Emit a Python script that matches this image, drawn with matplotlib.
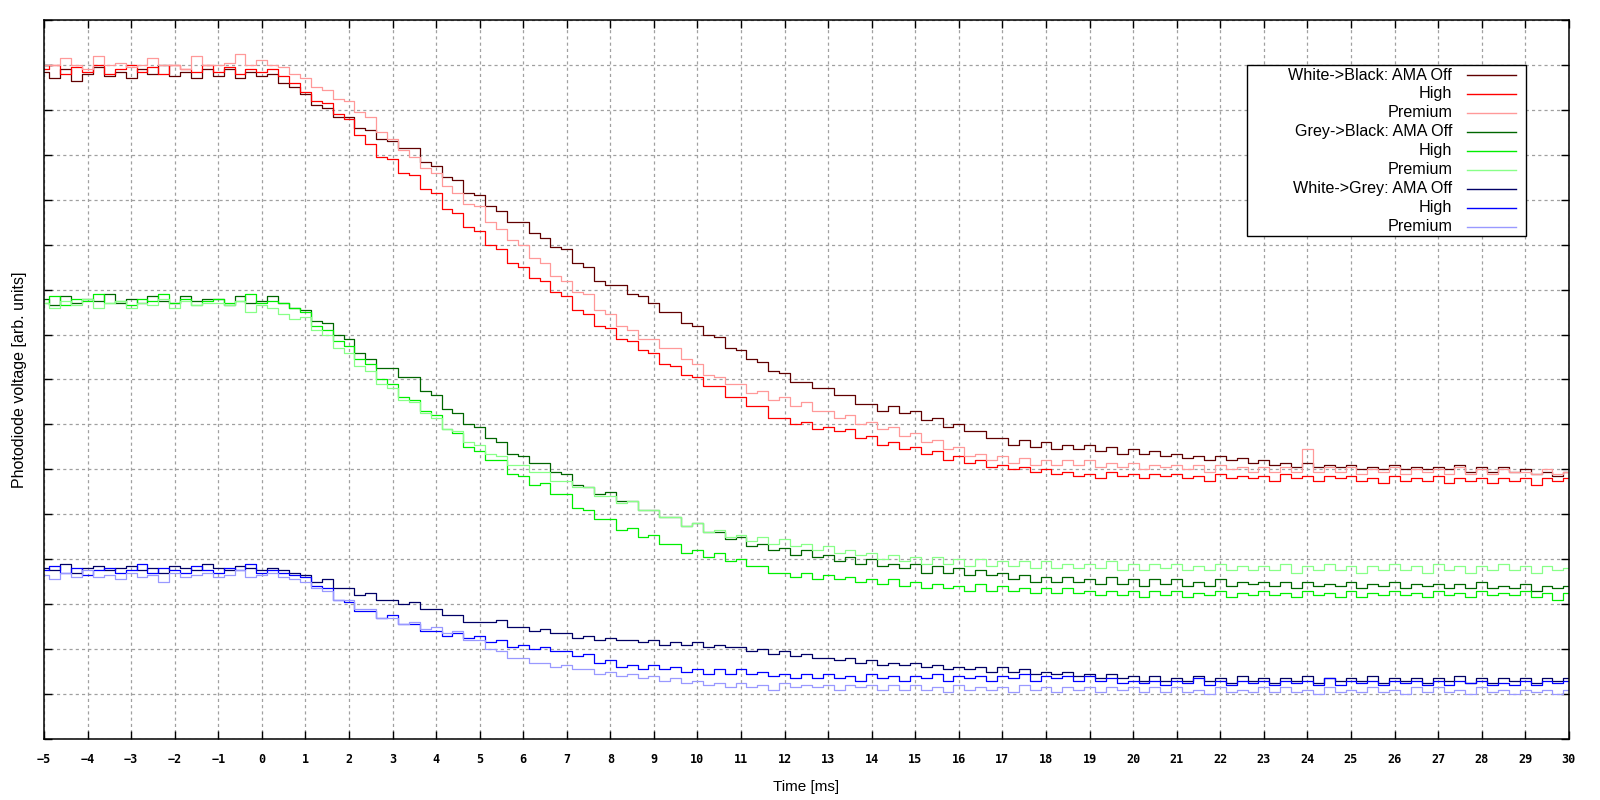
import numpy as np
import matplotlib
matplotlib.use('Agg')
import matplotlib.pyplot as plt
from matplotlib.patches import Rectangle

# sample times, every 0.25 ms from -5 to 30
t = np.linspace(-5, 30, 141)

# White->Black
wb_off = [14.85, 14.7, 14.9, 14.65, 14.8, 14.95, 14.75, 14.85,
          14.7, 14.9, 14.8, 15.0, 14.75, 14.85, 14.7, 14.9,
          14.75, 14.9, 14.7, 14.85, 14.75, 14.8, 14.6, 14.5,
          14.35, 14.1, 14.05, 13.85, 13.85, 13.6, 13.55, 13.35,
          13.3, 13.15, 13.15, 12.85, 12.75, 12.5, 12.45, 12.15,
          12.1, 11.85, 11.75, 11.5, 11.5, 11.25, 11.15, 10.95,
          10.9, 10.6, 10.5, 10.2, 10.1, 10.1, 9.9, 9.85,
          9.7, 9.5, 9.5, 9.25, 9.2, 9.0, 8.95, 8.7,
          8.65, 8.45, 8.4, 8.2, 8.15, 7.95, 7.95, 7.8,
          7.8, 7.65, 7.65, 7.45, 7.45, 7.3, 7.4, 7.25,
          7.3, 7.1, 7.15, 6.95, 7.0, 6.85, 6.85, 6.7,
          6.7, 6.55, 6.65, 6.5, 6.6, 6.45, 6.55, 6.45,
          6.55, 6.4, 6.5, 6.35, 6.45, 6.35, 6.4, 6.3,
          6.35, 6.25, 6.3, 6.2, 6.3, 6.2, 6.25, 6.15,
          6.2, 6.1, 6.15, 6.05, 6.15, 6.05, 6.1, 6.05,
          6.1, 6.0, 6.05, 6.0, 6.1, 6.0, 6.05, 6.0,
          6.05, 6.0, 6.1, 5.95, 6.05, 5.95, 6.05, 5.95,
          6.0, 5.9, 5.95, 5.85, 5.95]
wb_high = [14.9, 15.0, 14.8, 14.95, 14.85, 15.0, 14.8, 14.9,
           15.0, 14.85, 14.95, 14.8, 15.0, 14.9, 14.85, 15.0,
           14.85, 14.95, 14.8, 14.9, 14.85, 14.9, 14.75, 14.6,
           14.4, 14.2, 14.15, 13.9, 13.8, 13.45, 13.25, 12.95,
           12.9, 12.6, 12.55, 12.25, 12.15, 11.8, 11.7, 11.4,
           11.3, 11.0, 10.9, 10.6, 10.5, 10.25, 10.2, 9.95,
           9.85, 9.55, 9.45, 9.2, 9.15, 8.9, 8.85, 8.65,
           8.6, 8.35, 8.3, 8.1, 8.05, 7.85, 7.85, 7.6,
           7.6, 7.4, 7.4, 7.15, 7.15, 7.0, 7.05, 6.9,
           6.95, 6.85, 6.9, 6.7, 6.75, 6.55, 6.6, 6.45,
           6.5, 6.35, 6.4, 6.2, 6.3, 6.15, 6.2, 6.05,
           6.1, 6.0, 6.05, 5.95, 6.0, 5.9, 5.95, 5.85,
           5.9, 5.8, 5.95, 5.85, 5.9, 5.8, 5.9, 5.85,
           5.9, 5.8, 5.85, 5.75, 5.9, 5.8, 5.85, 5.8,
           5.85, 5.75, 5.9, 5.8, 5.85, 5.75, 5.85, 5.8,
           5.85, 5.75, 5.8, 5.7, 5.85, 5.75, 5.8, 5.75,
           5.85, 5.7, 5.8, 5.75, 5.8, 5.7, 5.8, 5.75,
           5.8, 5.65, 5.8, 5.75, 5.8]
wb_prem = [15.0, 15.0, 15.15, 15.0, 14.9, 15.2, 15.0, 15.05,
           14.95, 15.0, 15.15, 15.0, 15.0, 14.9, 15.2, 15.0,
           15.0, 15.05, 15.25, 15.0, 15.1, 15.0, 14.95, 14.8,
           14.7, 14.5, 14.45, 14.25, 14.2, 13.95, 13.85, 13.5,
           13.35, 13.1, 12.95, 12.7, 12.6, 12.3, 12.15, 11.9,
           11.85, 11.5, 11.35, 11.1, 11.0, 10.7, 10.6, 10.3,
           10.2, 9.95, 9.9, 9.55, 9.45, 9.2, 9.1, 8.9,
           8.9, 8.7, 8.7, 8.45, 8.35, 8.1, 8.05, 7.9,
           7.9, 7.7, 7.75, 7.55, 7.6, 7.4, 7.5, 7.3,
           7.3, 7.15, 7.2, 7.0, 7.05, 6.9, 6.95, 6.75,
           6.8, 6.6, 6.65, 6.45, 6.5, 6.3, 6.35, 6.2,
           6.3, 6.15, 6.25, 6.1, 6.2, 6.1, 6.2, 6.1,
           6.2, 6.05, 6.15, 6.05, 6.15, 6.0, 6.1, 6.05,
           6.1, 6.0, 6.1, 5.95, 6.1, 6.0, 6.05, 5.95,
           6.05, 5.95, 6.05, 5.95, 6.45, 5.95, 6.05, 5.95,
           6.05, 5.9, 6.0, 5.95, 6.05, 5.9, 6.0, 5.95,
           6.0, 5.9, 6.05, 5.9, 6.0, 5.9, 6.0, 5.95,
           5.95, 5.9, 6.0, 5.9, 5.95]

# Grey->Black
gb_off = [9.8, 9.65, 9.85, 9.7, 9.8, 9.75, 9.9, 9.7,
          9.8, 9.7, 9.85, 9.75, 9.7, 9.85, 9.75, 9.8,
          9.8, 9.65, 9.85, 9.7, 9.75, 9.85, 9.7, 9.6,
          9.55, 9.3, 9.25, 9.0, 8.9, 8.6, 8.45, 8.25,
          8.25, 8.05, 8.05, 7.75, 7.65, 7.35, 7.25, 7.0,
          6.95, 6.7, 6.6, 6.35, 6.3, 6.15, 6.15, 5.95,
          5.9, 5.65, 5.6, 5.45, 5.5, 5.3, 5.3, 5.1,
          5.1, 4.95, 4.95, 4.75, 4.8, 4.6, 4.6, 4.45,
          4.5, 4.3, 4.35, 4.2, 4.25, 4.1, 4.2, 4.05,
          4.1, 3.95, 4.05, 3.9, 4.0, 3.85, 3.9, 3.8,
          3.9, 3.7, 3.85, 3.7, 3.8, 3.65, 3.75, 3.65,
          3.7, 3.55, 3.65, 3.5, 3.6, 3.5, 3.6, 3.5,
          3.55, 3.45, 3.6, 3.45, 3.55, 3.4, 3.55, 3.45,
          3.55, 3.4, 3.5, 3.4, 3.55, 3.4, 3.5, 3.45,
          3.5, 3.4, 3.5, 3.35, 3.5, 3.4, 3.45, 3.4,
          3.5, 3.35, 3.45, 3.4, 3.5, 3.35, 3.45, 3.4,
          3.45, 3.35, 3.45, 3.35, 3.5, 3.35, 3.4, 3.35,
          3.45, 3.3, 3.4, 3.35, 3.4]
gb_high = [9.7, 9.85, 9.65, 9.8, 9.75, 9.9, 9.7, 9.75,
           9.65, 9.8, 9.75, 9.9, 9.7, 9.8, 9.65, 9.75,
           9.8, 9.7, 9.75, 9.9, 9.7, 9.75, 9.7, 9.6,
           9.5, 9.2, 9.1, 8.85, 8.75, 8.45, 8.35, 8.0,
           7.9, 7.6, 7.55, 7.3, 7.2, 6.9, 6.8, 6.5,
           6.4, 6.2, 6.2, 5.9, 5.85, 5.65, 5.7, 5.45,
           5.45, 5.15, 5.1, 4.9, 4.9, 4.65, 4.7, 4.5,
           4.55, 4.35, 4.35, 4.15, 4.2, 4.05, 4.15, 3.95,
           4.0, 3.85, 3.85, 3.7, 3.7, 3.6, 3.7, 3.55,
           3.65, 3.55, 3.6, 3.5, 3.55, 3.45, 3.55, 3.4,
           3.5, 3.35, 3.45, 3.35, 3.4, 3.3, 3.45, 3.3,
           3.4, 3.3, 3.35, 3.25, 3.35, 3.25, 3.35, 3.25,
           3.3, 3.2, 3.3, 3.2, 3.3, 3.15, 3.3, 3.2,
           3.3, 3.15, 3.25, 3.2, 3.3, 3.15, 3.25, 3.2,
           3.3, 3.2, 3.25, 3.15, 3.3, 3.2, 3.25, 3.15,
           3.3, 3.15, 3.25, 3.2, 3.3, 3.2, 3.25, 3.15,
           3.3, 3.2, 3.25, 3.15, 3.3, 3.2, 3.25, 3.2,
           3.3, 3.15, 3.25, 3.1, 3.25]
gb_prem = [9.7, 9.6, 9.75, 9.65, 9.8, 9.6, 9.7, 9.75,
           9.6, 9.7, 9.65, 9.8, 9.6, 9.75, 9.65, 9.7,
           9.7, 9.65, 9.75, 9.5, 9.65, 9.6, 9.45, 9.35,
           9.4, 9.1, 9.0, 8.7, 8.6, 8.3, 8.2, 7.9,
           7.8, 7.55, 7.5, 7.25, 7.15, 6.9, 6.85, 6.6,
           6.55, 6.35, 6.3, 6.1, 6.1, 5.95, 5.95, 5.75,
           5.75, 5.6, 5.6, 5.4, 5.4, 5.25, 5.3, 5.1,
           5.1, 4.95, 4.95, 4.75, 4.8, 4.6, 4.65, 4.5,
           4.55, 4.4, 4.5, 4.35, 4.45, 4.3, 4.35, 4.2,
           4.3, 4.15, 4.2, 4.1, 4.15, 4.0, 4.1, 3.95,
           4.05, 3.9, 4.05, 3.9, 4.0, 3.85, 4.0, 3.85,
           3.95, 3.85, 3.95, 3.8, 3.95, 3.8, 3.9, 3.8,
           3.9, 3.8, 3.95, 3.75, 3.9, 3.75, 3.9, 3.8,
           3.9, 3.75, 3.85, 3.75, 3.9, 3.75, 3.85, 3.75,
           3.85, 3.75, 3.9, 3.7, 3.85, 3.75, 3.9, 3.75,
           3.85, 3.7, 3.85, 3.75, 3.9, 3.75, 3.85, 3.7,
           3.9, 3.75, 3.85, 3.7, 3.85, 3.75, 3.9, 3.75,
           3.85, 3.7, 3.85, 3.75, 3.8]

# White->Grey
wg_off = [3.8, 3.75, 3.9, 3.7, 3.8, 3.85, 3.75, 3.8,
          3.85, 3.75, 3.8, 3.7, 3.85, 3.8, 3.75, 3.9,
          3.8, 3.75, 3.85, 3.8, 3.75, 3.8, 3.75, 3.7,
          3.65, 3.5, 3.55, 3.35, 3.35, 3.2, 3.25, 3.1,
          3.1, 3.0, 3.05, 2.9, 2.9, 2.75, 2.75, 2.6,
          2.6, 2.6, 2.65, 2.5, 2.5, 2.4, 2.45, 2.35,
          2.35, 2.25, 2.3, 2.2, 2.25, 2.2, 2.2, 2.15,
          2.2, 2.1, 2.15, 2.1, 2.15, 2.05, 2.1, 2.05,
          2.05, 1.95, 2.0, 1.9, 1.95, 1.85, 1.9, 1.8,
          1.8, 1.75, 1.8, 1.7, 1.75, 1.65, 1.7, 1.65,
          1.7, 1.6, 1.65, 1.55, 1.6, 1.55, 1.6, 1.5,
          1.6, 1.5, 1.55, 1.45, 1.5, 1.45, 1.5, 1.4,
          1.45, 1.35, 1.45, 1.35, 1.4, 1.3, 1.4, 1.3,
          1.35, 1.3, 1.4, 1.3, 1.35, 1.25, 1.4, 1.3,
          1.35, 1.25, 1.35, 1.3, 1.4, 1.25, 1.35, 1.3,
          1.35, 1.3, 1.4, 1.25, 1.35, 1.3, 1.35, 1.25,
          1.35, 1.3, 1.4, 1.25, 1.35, 1.25, 1.35, 1.3,
          1.35, 1.25, 1.35, 1.3, 1.35]
wg_high = [3.75, 3.85, 3.7, 3.8, 3.65, 3.75, 3.8, 3.7,
           3.75, 3.9, 3.7, 3.8, 3.75, 3.7, 3.85, 3.75,
           3.7, 3.8, 3.75, 3.9, 3.7, 3.75, 3.7, 3.65,
           3.6, 3.4, 3.35, 3.1, 3.05, 2.85, 2.85, 2.7,
           2.75, 2.55, 2.55, 2.4, 2.4, 2.3, 2.35, 2.25,
           2.3, 2.15, 2.2, 2.05, 2.1, 2.0, 2.05, 1.95,
           1.95, 1.85, 1.9, 1.7, 1.75, 1.6, 1.65, 1.55,
           1.65, 1.55, 1.6, 1.5, 1.55, 1.45, 1.55, 1.45,
           1.55, 1.45, 1.5, 1.4, 1.45, 1.35, 1.45, 1.35,
           1.45, 1.35, 1.4, 1.3, 1.45, 1.35, 1.4, 1.3,
           1.4, 1.35, 1.45, 1.3, 1.4, 1.35, 1.4, 1.3,
           1.4, 1.35, 1.45, 1.3, 1.4, 1.35, 1.4, 1.3,
           1.4, 1.3, 1.35, 1.25, 1.3, 1.25, 1.3, 1.2,
           1.3, 1.25, 1.35, 1.2, 1.3, 1.2, 1.3, 1.25,
           1.3, 1.2, 1.3, 1.25, 1.3, 1.2, 1.35, 1.2,
           1.3, 1.25, 1.3, 1.2, 1.3, 1.25, 1.3, 1.2,
           1.3, 1.2, 1.3, 1.25, 1.3, 1.2, 1.25, 1.2,
           1.3, 1.2, 1.3, 1.25, 1.3]
wg_prem = [3.65, 3.55, 3.7, 3.6, 3.75, 3.6, 3.65, 3.55,
           3.7, 3.6, 3.65, 3.5, 3.7, 3.6, 3.65, 3.7,
           3.6, 3.65, 3.75, 3.6, 3.65, 3.7, 3.6, 3.55,
           3.5, 3.35, 3.3, 3.1, 3.1, 2.9, 2.9, 2.7,
           2.7, 2.55, 2.6, 2.45, 2.5, 2.35, 2.4, 2.2,
           2.2, 2.0, 1.95, 1.8, 1.8, 1.7, 1.7, 1.6,
           1.65, 1.55, 1.55, 1.45, 1.5, 1.4, 1.45, 1.35,
           1.4, 1.3, 1.35, 1.25, 1.3, 1.2, 1.25, 1.15,
           1.25, 1.15, 1.2, 1.1, 1.25, 1.15, 1.2, 1.15,
           1.2, 1.1, 1.2, 1.15, 1.2, 1.1, 1.2, 1.1,
           1.2, 1.1, 1.15, 1.05, 1.2, 1.1, 1.15, 1.1,
           1.15, 1.05, 1.2, 1.1, 1.15, 1.05, 1.15, 1.1,
           1.15, 1.05, 1.15, 1.1, 1.15, 1.05, 1.15, 1.05,
           1.15, 1.05, 1.1, 1.0, 1.15, 1.05, 1.1, 1.05,
           1.15, 1.05, 1.15, 1.05, 1.1, 1.0, 1.15, 1.05,
           1.1, 1.05, 1.15, 1.05, 1.1, 1.0, 1.15, 1.05,
           1.15, 1.05, 1.1, 1.0, 1.15, 1.05, 1.1, 1.0,
           1.1, 1.05, 1.1, 1.0, 1.1]

labels = ['White->Black: AMA Off', 'High', 'Premium',
          'Grey->Black: AMA Off', 'High', 'Premium',
          'White->Grey: AMA Off', 'High', 'Premium']
colors = ['#600000', '#ff0000', '#ff9999',
          '#006600', '#00ee00', '#88ff88',
          '#000066', '#0000ff', '#9999ff']
series = [wb_off, wb_high, wb_prem, gb_off, gb_high, gb_prem,
          wg_off, wg_high, wg_prem]

plt.rcParams['font.family'] = ['Liberation Sans', 'DejaVu Sans']

fig = plt.figure(figsize=(16, 8), dpi=100)
ax = fig.add_axes([0.0275, 0.07625, 0.953, 0.89875])

for y, c in zip(series, colors):
    ax.plot(t, y, color=c, lw=0.9, drawstyle='steps-mid')

ax.set_xlim(-5, 30)
ax.set_ylim(0, 16)
ax.set_xticks(np.arange(-5, 31, 1))
ax.set_yticks(np.arange(0, 17, 1))
ax.set_yticklabels([])
ax.tick_params(direction='in', length=6, width=1, top=True, right=True,
               colors='black')
ax.tick_params(axis='x', pad=10)
for lab in ax.get_xticklabels():
    lab.set_family('DejaVu Sans Mono')
    lab.set_weight('bold')
    lab.set_fontsize(8.5)
ax.grid(True, color='#a0a0a0', linestyle=(0, (2.5, 2.5)), lw=0.9)
ax.set_axisbelow(True)
for s in ax.spines.values():
    s.set_linewidth(1.1)

ax.set_xlabel('Time [ms]', fontsize=11, labelpad=10)
ax.set_ylabel('Photodiode voltage [arb. units]', fontsize=11.5, labelpad=9)

# legend box drawn by hand so the texts can be right aligned like gnuplot
bx0, by0, bx1, by1 = 0.789, 0.6996, 0.972, 0.9374
ax.add_patch(Rectangle((bx0, by0), bx1 - bx0, by1 - by0, transform=ax.transAxes,
                       facecolor='white', edgecolor='black', lw=1, zorder=5))
row_h = 0.02637
for i, (lab, c) in enumerate(zip(labels, colors)):
    yy = 0.9235 - i * row_h
    ax.text(0.9235, yy, lab, transform=ax.transAxes, ha='right', va='center',
            fontsize=11.6, zorder=6)
    ax.plot([0.9331, 0.9652], [yy, yy], transform=ax.transAxes, color=c,
            lw=1, zorder=6)

fig.savefig('out.png', dpi=100, facecolor='white')
